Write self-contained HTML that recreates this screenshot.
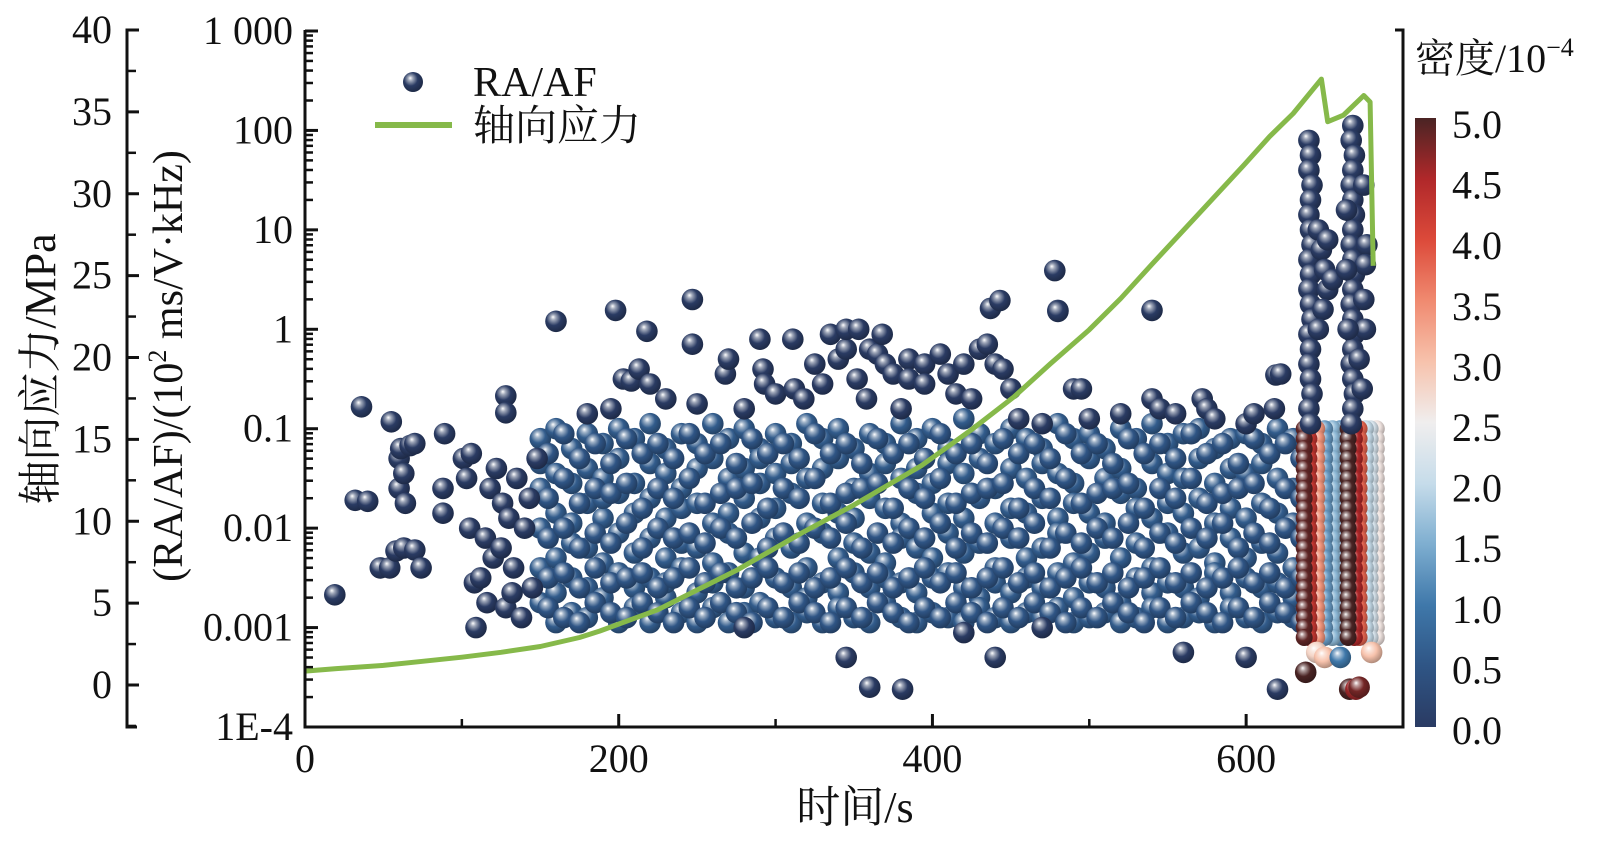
<!DOCTYPE html>
<html><head><meta charset="utf-8"><style>
html,body{margin:0;padding:0;background:#fff;}
svg{display:block;}
text{font-family:"Liberation Serif","Noto Serif CJK SC","Noto Sans CJK SC",serif;fill:#111;}
</style></head><body>
<svg id="chart" width="1599" height="857" viewBox="0 0 1599 857" xmlns="http://www.w3.org/2000/svg">
<defs id="defs">
<linearGradient id="cbar" x1="0" y1="1" x2="0" y2="0">
<stop offset="0" stop-color="#2a3b63"/><stop offset="0.1" stop-color="#2f5585"/>
<stop offset="0.2" stop-color="#3f78aa"/><stop offset="0.3" stop-color="#7eaed0"/>
<stop offset="0.4" stop-color="#c6dcea"/><stop offset="0.5" stop-color="#f0eeee"/>
<stop offset="0.6" stop-color="#f7c2ac"/><stop offset="0.7" stop-color="#f08a70"/>
<stop offset="0.8" stop-color="#dc4a3a"/><stop offset="0.9" stop-color="#b0282a"/>
<stop offset="1" stop-color="#4a2424"/></linearGradient>
</defs>
<g id="marks"></g>
<g id="axes"></g>
</svg>
<script>
// ---- data ----
const xTicks=[0,200,400,600];
const logTickLabels=["1E-4","0.001","0.01","0.1","1","10","100","1 000"];
const stressTicks=[0,5,10,15,20,25,30,35,40];
const cbarTicks=["0.0","0.5","1.0","1.5","2.0","2.5","3.0","3.5","4.0","4.5","5.0"];
const stressT=[0,20,50,75,100,125,150,175,188,225,250,275,317,350,393,425,452,475,500,520,540,570,599,615,630,648,652,662,675,679,681];
const stressV=[0.85,1.0,1.2,1.45,1.7,2.0,2.35,2.9,3.3,4.6,5.8,7.0,9.3,11.0,13.4,15.6,17.6,19.6,21.7,23.6,25.7,28.8,31.8,33.5,34.9,37.0,34.4,34.8,36.0,35.6,25.6];
const cloudT=[150,160,170,180,190,200,210,220,230,240,250,260,270,280,290,300,310,320,330,340,350,360,370,380,390,400,410,420,430,440,450,460,470,480,490,500,510,520,530,540,550,560,570,580,590,600,610,620,630];
const cloudA=[
[-1.1,-1.6,-2.0,-2.4,-2.75,-1.35],[-1.0,-1.45,-1.85,-2.3,-2.65,-2.95],[-1.2,-1.55,-1.95,-2.15,-2.5,-2.85],[-1.05,-1.4,-1.75,-2.2,-2.6,-2.9],
[-1.15,-1.5,-1.9,-2.35,-2.7,-1.7],[-1.0,-1.3,-1.65,-2.05,-2.45,-2.95],[-1.1,-1.55,-1.85,-2.25,-2.6,-2.8],[-0.95,-1.35,-1.7,-2.1,-2.5,-2.95],
[-1.2,-1.45,-1.9,-2.3,-2.7,-2.55],[-1.05,-1.6,-1.8,-2.15,-2.4,-2.85],[-1.15,-1.4,-1.75,-2.2,-2.65,-2.95],[-0.95,-1.3,-1.95,-2.35,-2.55,-2.8],
[-1.1,-1.5,-1.85,-2.05,-2.45,-2.95],[-1.0,-1.4,-1.7,-2.25,-2.6,-2.85],[-1.2,-1.55,-1.9,-2.3,-2.75,-1.3],[-1.05,-1.45,-1.8,-2.1,-2.5,-2.9],
[-1.15,-1.35,-1.65,-2.2,-2.6,-2.95],[-0.95,-1.5,-1.95,-2.4,-2.7,-2.85],[-1.1,-1.4,-1.75,-2.05,-2.55,-2.95],[-1.0,-1.3,-1.85,-2.3,-2.65,-2.8],
[-1.2,-1.6,-1.9,-2.15,-2.45,-2.9],[-1.05,-1.45,-1.7,-2.25,-2.6,-2.95],[-1.15,-1.35,-1.8,-2.35,-2.75,-2.5],[-0.95,-1.5,-1.95,-2.1,-2.55,-2.9],
[-1.1,-1.4,-1.65,-2.2,-2.65,-2.95],[-1.0,-1.55,-1.85,-2.3,-2.5,-2.85],[-1.2,-1.35,-1.75,-2.05,-2.45,-2.9],[-0.9,-1.45,-1.9,-2.25,-2.6,-2.95],
[-1.05,-1.3,-1.7,-2.15,-2.7,-2.8],[-1.15,-1.6,-1.95,-2.4,-2.55,-2.9],[-1.0,-1.4,-1.8,-2.1,-2.65,-2.95],[-1.1,-1.5,-1.85,-2.3,-2.5,-2.85],
[-1.2,-1.35,-1.7,-2.2,-2.6,-2.9],[-0.95,-1.45,-1.9,-2.05,-2.45,-2.8],[-1.1,-1.55,-1.75,-2.35,-2.7,-2.95],[-1.05,-1.3,-1.85,-2.25,-2.55,-2.9],
[-1.2,-1.5,-1.95,-2.1,-2.6,-2.85],[-1.0,-1.4,-1.65,-2.3,-2.75,-2.95],[-1.1,-1.6,-1.8,-2.15,-2.5,-2.9],[-0.95,-1.35,-1.9,-2.4,-2.65,-2.8],
[-1.15,-1.45,-1.75,-2.05,-2.55,-2.95],[-1.05,-1.5,-1.85,-2.25,-2.6,-2.9],[-1.0,-1.3,-1.7,-2.2,-2.7,-2.85],[-1.2,-1.55,-1.95,-2.35,-2.45,-2.95],
[-1.1,-1.4,-1.8,-2.1,-2.65,-2.8],[-1.05,-1.45,-1.9,-2.3,-2.5,-2.9],[-1.15,-1.35,-1.75,-2.15,-2.6,-2.95],[-1.0,-1.5,-1.85,-2.25,-2.55,-2.85],
[-1.1,-1.6,-1.95,-2.4,-2.7,-2.9]];
const cloudT2=[155,165,175,185,195,205,215,225,235,245,255,265,275,285,295,305,315,325,335,345,355,365,375,385,395,405,415,425,435,445,455,465,475,485,495,505,515,525,535,545,555,565,575,585,595,605,615,625,635];
const cloudB=[
[-1.25,-1.7,-2.1,-2.5,-2.8],[-1.05,-1.5,-2.0,-2.45,-2.9],[-1.3,-1.75,-2.2,-2.6,-2.95],[-1.15,-1.6,-2.05,-2.4,-2.75],
[-1.35,-1.65,-2.15,-2.55,-2.85],[-1.1,-1.55,-1.95,-2.5,-2.9],[-1.25,-1.8,-2.2,-2.45,-2.75],[-1.15,-1.6,-2.0,-2.6,-2.85],
[-1.3,-1.7,-2.1,-2.5,-2.95],[-1.05,-1.5,-2.05,-2.4,-2.8],[-1.25,-1.75,-2.15,-2.55,-2.9],[-1.15,-1.65,-2.0,-2.45,-2.75],
[-1.35,-1.6,-2.1,-2.6,-2.85],[-1.1,-1.55,-1.95,-2.5,-2.95],[-1.25,-1.8,-2.2,-2.4,-2.8],[-1.15,-1.6,-2.05,-2.55,-2.9],
[-1.3,-1.7,-2.15,-2.45,-2.75],[-1.05,-1.5,-2.0,-2.6,-2.85],[-1.25,-1.75,-2.1,-2.5,-2.95],[-1.15,-1.65,-1.95,-2.4,-2.8],
[-1.35,-1.6,-2.2,-2.55,-2.9],[-1.1,-1.55,-2.05,-2.45,-2.75],[-1.25,-1.8,-2.15,-2.6,-2.85],[-1.15,-1.6,-2.0,-2.5,-2.95],
[-1.3,-1.7,-2.1,-2.4,-2.8],[-1.05,-1.5,-1.95,-2.55,-2.9],[-1.25,-1.75,-2.2,-2.45,-2.75],[-1.15,-1.65,-2.05,-2.6,-2.85],
[-1.35,-1.6,-2.15,-2.5,-2.95],[-1.1,-1.55,-2.0,-2.4,-2.8],[-1.25,-1.8,-2.1,-2.55,-2.9],[-1.15,-1.6,-1.95,-2.45,-2.75],
[-1.3,-1.7,-2.2,-2.6,-2.85],[-1.05,-1.5,-2.05,-2.5,-2.95],[-1.25,-1.75,-2.15,-2.4,-2.8],[-1.15,-1.65,-2.0,-2.55,-2.9],
[-1.35,-1.6,-2.1,-2.45,-2.75],[-1.1,-1.55,-1.95,-2.6,-2.85],[-1.25,-1.8,-2.2,-2.5,-2.95],[-1.15,-1.6,-2.05,-2.4,-2.8],
[-1.3,-1.7,-2.15,-2.55,-2.9],[-1.05,-1.5,-2.0,-2.45,-2.75],[-1.25,-1.75,-2.1,-2.6,-2.85],[-1.15,-1.65,-1.95,-2.5,-2.95],
[-1.35,-1.6,-2.2,-2.4,-2.8],[-1.1,-1.55,-2.05,-2.55,-2.9],[-1.25,-1.8,-2.15,-2.45,-2.75],[-1.15,-1.6,-2.0,-2.6,-2.85],
[-1.3,-1.7,-2.1,-2.5,-2.95]];
const sparseT=[19,32,36,40,48,54,55,58,60,60,61,63,63,64,67,70,70,74,88,88,89,101,103,105,106,108,109,112,115,116,118,120,122,125,126,128,128,128,130,132,133,135,138,140,143,145,148,
160,180,195,198,203,208,213,218,220,230,247,247,250,268,270,280,290,292,293,300,311,312,318,325,330,335,340,345,345,352,353,358,360,365,368,370,375,380,385,385,395,395,405,410,415,420,425,430,435,437,440,443,445,450,455,470,478,480,480,490,495,500,520,540,540,545,555,572,575,580,600,605,618,619,622,
280,345,360,381,420,440,470,560,600,620];
const sparseV=[-2.67,-1.72,-0.78,-1.73,-2.4,-2.4,-0.93,-2.23,-1.3,-1.6,-1.2,-1.45,-2.2,-1.75,-1.17,-1.15,-2.22,-2.4,-1.6,-1.85,-1.05,-1.3,-1.5,-2.0,-1.25,-2.55,-3.0,-2.5,-2.1,-2.75,-1.6,-2.3,-1.4,-2.2,-1.75,-0.67,-0.84,-2.8,-1.9,-2.65,-2.4,-1.5,-2.9,-2.0,-1.7,-2.6,-1.3,
0.08,-0.85,-0.8,0.19,-0.5,-0.52,-0.4,-0.02,-0.55,-0.7,0.3,-0.15,-0.75,-0.45,-0.3,-0.8,-0.1,-0.4,-0.55,-0.65,-0.1,-0.6,-0.7,-0.35,-0.55,-0.05,-0.3,-0.2,0.0,-0.5,0.0,-0.7,-0.2,-0.25,-0.05,-0.35,-0.45,-0.8,-0.3,-0.5,-0.35,-0.55,-0.25,-0.45,-0.65,-0.35,-0.7,-0.2,-0.15,0.21,-0.35,0.29,-0.4,-0.6,-0.9,-0.95,0.59,0.19,0.18,-0.6,-0.6,-0.9,-0.85,0.19,-0.7,-0.8,-0.85,-0.7,-0.8,-0.9,-0.95,-0.85,-0.8,-0.46,-0.45,
-3.0,-3.3,-3.6,-3.62,-3.05,-3.3,-3.0,-3.25,-3.3,-3.62];
const col1T=[640,641,640,642,641,640,641,642,640,641,640,641,642,640,641,640,641,642,640,641];
const col1V=[1.9,1.75,1.6,1.45,1.3,1.15,1.0,0.85,0.7,0.55,0.4,0.25,0.1,-0.05,-0.2,-0.35,-0.5,-0.65,-0.8,-0.95];
const col2T=[668,667,669,668,667,668,669,668,667,668,669,668,667,668,669,668,667,668,669,668,667];
const col2V=[2.05,1.9,1.75,1.6,1.45,1.3,1.15,1.0,0.85,0.7,0.55,0.4,0.25,0.1,-0.05,-0.2,-0.35,-0.5,-0.65,-0.8,-0.95];
const extraT=[646,648,650,652,649,646,652,655,675,677,676,675,676,672,674,664,664,665];
const extraV=[1.0,0.8,0.6,0.4,0.2,0.0,0.9,0.5,1.45,0.85,0.65,0.3,0.0,-0.3,-0.6,1.2,0.6,0.0];
const bandT=[683,679,676,660,655,650,645,640,637,672,669,665];
const bandD=[2.6,2.2,2.0,1.2,1.6,1.3,3.4,4.3,4.9,3.8,4.5,5.0];
const bandV=[-1.0,-1.1,-1.2,-1.3,-1.4,-1.5,-1.6,-1.7,-1.8,-1.9,-2.0,-2.1,-2.2,-2.3,-2.4,-2.5,-2.6,-2.7,-2.8,-2.9,-3.0,-3.1];
const botT=[638,645,650,660,666,670,672,680];
const botV=[-3.45,-3.25,-3.3,-3.3,-3.62,-3.62,-3.6,-3.25];
const botD=[5.0,2.8,3.0,1.0,5.0,4.6,4.8,3.0];

// ---- scales ----
const X=t=>305+t*(1403-305)/700;
const YL=lv=>31+(3-lv)*99.43;
const YS=s=>685-s*16.375;
const NS="http://www.w3.org/2000/svg";
const marks=document.getElementById('marks'), axes=document.getElementById('axes'), defs=document.getElementById('defs');
function el(tag,attrs,parent){const e=document.createElementNS(NS,tag);for(const k in attrs)e.setAttribute(k,attrs[k]);parent.appendChild(e);return e;}
const stops=[[0,[42,59,99]],[0.5,[47,85,133]],[1,[63,120,170]],[1.5,[126,174,208]],[2,[198,220,234]],[2.5,[240,238,238]],[3,[247,194,172]],[3.5,[240,138,112]],[4,[220,74,58]],[4.5,[176,40,42]],[5,[74,36,36]]];
function dcol(d){for(let i=0;i<stops.length-1;i++){const a=stops[i],b=stops[i+1];if(d<=b[0]){const f=(d-a[0])/(b[0]-a[0]);return a[1].map((v,j)=>Math.round(v+(b[1][j]-v)*f));}}return stops[stops.length-1][1];}
const gcache={};
function grad(d){const key=d.toFixed(2);if(gcache[key])return gcache[key];const c=dcol(d);const id='g'+Object.keys(gcache).length;
const g=el('radialGradient',{id:id,cx:'0.42',cy:'0.4',r:'0.62',fx:'0.36',fy:'0.3'},defs);
const lt=c.map(v=>Math.round(v+(255-v)*0.55)), dk=c.map(v=>Math.round(v*0.7));
el('stop',{offset:'0','stop-color':'#ffffff'},g);el('stop',{offset:'0.2','stop-color':`rgb(${lt})`},g);
el('stop',{offset:'0.55','stop-color':`rgb(${c})`},g);el('stop',{offset:'1','stop-color':`rgb(${dk})`},g);
gcache[key]='url(#'+id+')';return gcache[key];}
function ball(t,lv,d,name,r){const c=el('circle',{cx:X(t).toFixed(1),cy:YL(lv).toFixed(1),r:r||10.8,fill:grad(d)},marks);

}

// cloud
cloudT.forEach((t,i)=>cloudA[i].forEach(v=>ball(t,v,0.6,'ra-af-point')));
cloudT2.forEach((t,i)=>cloudB[i].forEach(v=>ball(t,v,0.5,'ra-af-point')));
sparseT.forEach((t,i)=>ball(t,sparseV[i],0,'ra-af-point'));
// failure columns
bandT.forEach((t,i)=>bandV.forEach(v=>ball(t,v,bandD[i],'failure-band-point',8.5)));
botT.forEach((t,i)=>ball(t,botV[i],botD[i],'failure-band-point'));
col1T.forEach((t,i)=>ball(t,col1V[i],0,'failure-column-point'));
col2T.forEach((t,i)=>ball(t,col2V[i],0,'failure-column-point'));
extraT.forEach((t,i)=>ball(t,extraV[i],0,'failure-column-point'));

// stress line
const pts=stressT.map((t,i)=>X(t).toFixed(1)+','+YS(stressV[i]).toFixed(1)).join(' ');
const line=el('polyline',{points:pts,fill:'none',stroke:'#86b94a','stroke-width':5,'stroke-linejoin':'round'},marks);



// ---- axes ----
const A={stroke:'#111','stroke-width':3,fill:'none'};
el('path',Object.assign({d:'M305,30 V727 H1403 V30 H1395'},A),axes);
el('path',Object.assign({d:'M137,30 H127 V727 H137'},A),axes);
function txt(x,y,s,anchor,size,name,parent){const e=el('text',{x:x,y:y,'text-anchor':anchor,'font-size':size},parent||axes);e.textContent=s;

return e;}
// log axis
logTickLabels.forEach((lab,i)=>{const lv=i-4;const y=YL(lv);
el('line',{x1:305,x2:318,y1:y,y2:y,stroke:'#111','stroke-width':3},axes);
txt(293,y+13,lab,'end',40,'log-tick-label');
if(i<logTickLabels.length-1){for(let m=2;m<=9;m++){const ym=YL(lv+Math.log10(m));el('line',{x1:305,x2:313,y1:ym,y2:ym,stroke:'#111','stroke-width':2.5},axes);}}});
// stress axis
stressTicks.forEach(s=>{const y=YS(s);el('line',{x1:127,x2:139,y1:y,y2:y,stroke:'#111','stroke-width':3},axes);
txt(112,y+13,String(s),'end',40,'stress-tick-label');
const ym=YS(s-2.5);el('line',{x1:127,x2:136,y1:ym,y2:ym,stroke:'#111','stroke-width':2.5},axes);});
// x axis
xTicks.forEach(t=>{const x=X(t);el('line',{x1:x,x2:x,y1:727,y2:714,stroke:'#111','stroke-width':3},axes);
txt(x,772,String(t),'middle',40,'x-tick-label');
const xm=X(t+100);el('line',{x1:xm,x2:xm,y1:727,y2:719,stroke:'#111','stroke-width':2.5},axes);});
txt(855,822,'时间/s','middle',44,'x-axis-title');
const t1=txt(0,0,'轴向应力/MPa','middle',44,'stress-axis-title');t1.setAttribute('transform','translate(55,369) rotate(-90)');
const t2=el('text',{'text-anchor':'middle','font-size':42,transform:'translate(182,366) rotate(-90)'},axes);
t2.innerHTML='(RA/AF)/(10<tspan font-size="26" dy="-16">2</tspan><tspan dy="16"> ms/V·kHz)</tspan>';


// colorbar
const cb=el('rect',{x:1415,y:118,width:21,height:609,fill:'url(#cbar)'},axes);


cbarTicks.forEach((lab,i)=>{const y=731-i*60.6;txt(1452,y+13,lab,'start',40,'colorbar-tick-label');});
const ct=el('text',{x:1415,y:72,'font-size':40},axes);ct.innerHTML='密度/10<tspan font-size="26" dy="-16">−4</tspan>';


// legend
const lg=el('g',{},axes);


const lb=el('circle',{cx:413,cy:82,r:10,fill:grad(0)},lg);


txt(473,96,'RA/AF','start',42,'legend-ra-af-label',lg);
const ll=el('line',{x1:375,x2:452,y1:125,y2:125,stroke:'#86b94a','stroke-width':6},lg);


txt(473,140,'轴向应力','start',42,'legend-stress-label',lg);
</script>
</body></html>
